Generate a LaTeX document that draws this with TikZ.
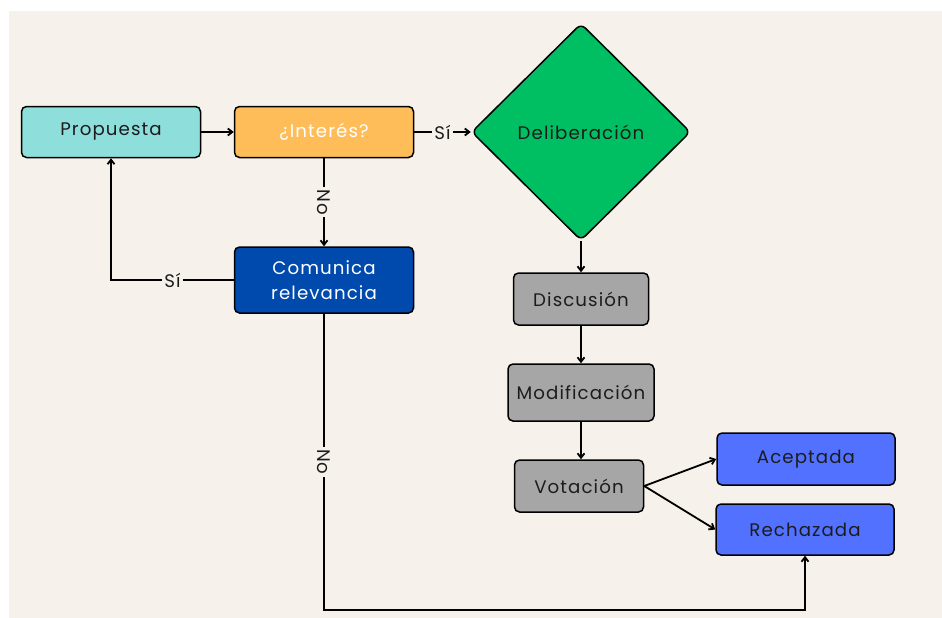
\documentclass[tikz,border=0pt]{standalone}
\usepackage{fontspec}
\setmainfont{Poppins}[LetterSpace=6]
\usetikzlibrary{shapes.geometric,arrows.meta}

\definecolor{paper}{HTML}{F6F2EB}
\definecolor{teal}{HTML}{8EDEDC}
\definecolor{amber}{HTML}{FFBD59}
\definecolor{leaf}{HTML}{00BF63}
\definecolor{navy}{HTML}{004AAD}
\definecolor{stone}{HTML}{A6A6A6}
\definecolor{royal}{HTML}{5271FF}
\definecolor{ink}{HTML}{1C1C1C}

\tikzset{
  box/.style={draw=black, line width=1.5pt, rounded corners=5pt, inner sep=0pt,
    font=\fontsize{18.2}{25}\selectfont, text=ink, align=center},
  flow/.style={line width=1.8pt, -{Straight Barb[length=4.5pt,width=7pt]}},
  lbl/.style={fill=paper, inner sep=2pt, font=\fontsize{18.2}{22}\selectfont, text=ink},
}

\begin{document}
\begin{tikzpicture}[x=1pt,y=-1pt]
  % page and paper background
  \fill[white] (0,0) rectangle (942,618);
  \fill[paper] (9,11) rectangle (942,618);
  \useasboundingbox (0,0) rectangle (942,618);

  % process nodes
  \node[box, fill=teal, minimum width=179pt, minimum height=51pt] (prop) at (111,132) {Propuesta};
  \node[box, fill=amber, minimum width=179pt, minimum height=51pt, text=white] (int) at (324,132) {¿Interés?};
  \node[box, draw, diamond, fill=leaf, rounded corners=6pt, minimum width=219pt, minimum height=217pt] (del) at (581,132) {Deliberación};
  \node[box, fill=navy, minimum width=179pt, minimum height=66pt, text=white] (com) at (324,280) {Comunica\\relevancia};
  \node[box, fill=stone, minimum width=135pt, minimum height=52pt] (dis) at (581,299) {Discusión};
  \node[box, fill=stone, minimum width=146pt, minimum height=57pt] (mod) at (581,392.5) {Modificación};
  \node[box, fill=stone, minimum width=129pt, minimum height=52pt] (vot) at (579,486) {Votación};
  \node[box, fill=royal, minimum width=178pt, minimum height=52pt] (acc) at (806,459) {Aceptada};
  \node[box, fill=royal, minimum width=178pt, minimum height=51pt] (rec) at (805,529.5) {Rechazada};

  \coordinate (floor) at (324,610);

  % connectors
  \draw[flow] (prop) -- (int);
  \draw[flow] (int.east) -- node[lbl]{Sí} (del.west);
  \draw[flow] (int.south) -- node[lbl, rotate=-90]{No} (com.north);
  \draw[flow] (com.west) -- node[lbl]{Sí} (com.west -| prop.south) -- (prop.south);
  \draw[flow] (com.south) -- node[lbl, rotate=-90]{No} (floor) -| (rec.south);
  \draw[flow] (del.south) -- (dis.north);
  \draw[flow] (dis.south) -- (dis.south |- mod.north);
  \draw[flow] (mod.south) -- (mod.south |- vot.north);
  \draw[flow] (vot.east) -- (acc.west);
  \draw[flow] (vot.east) -- (rec.west);
\end{tikzpicture}
\end{document}
